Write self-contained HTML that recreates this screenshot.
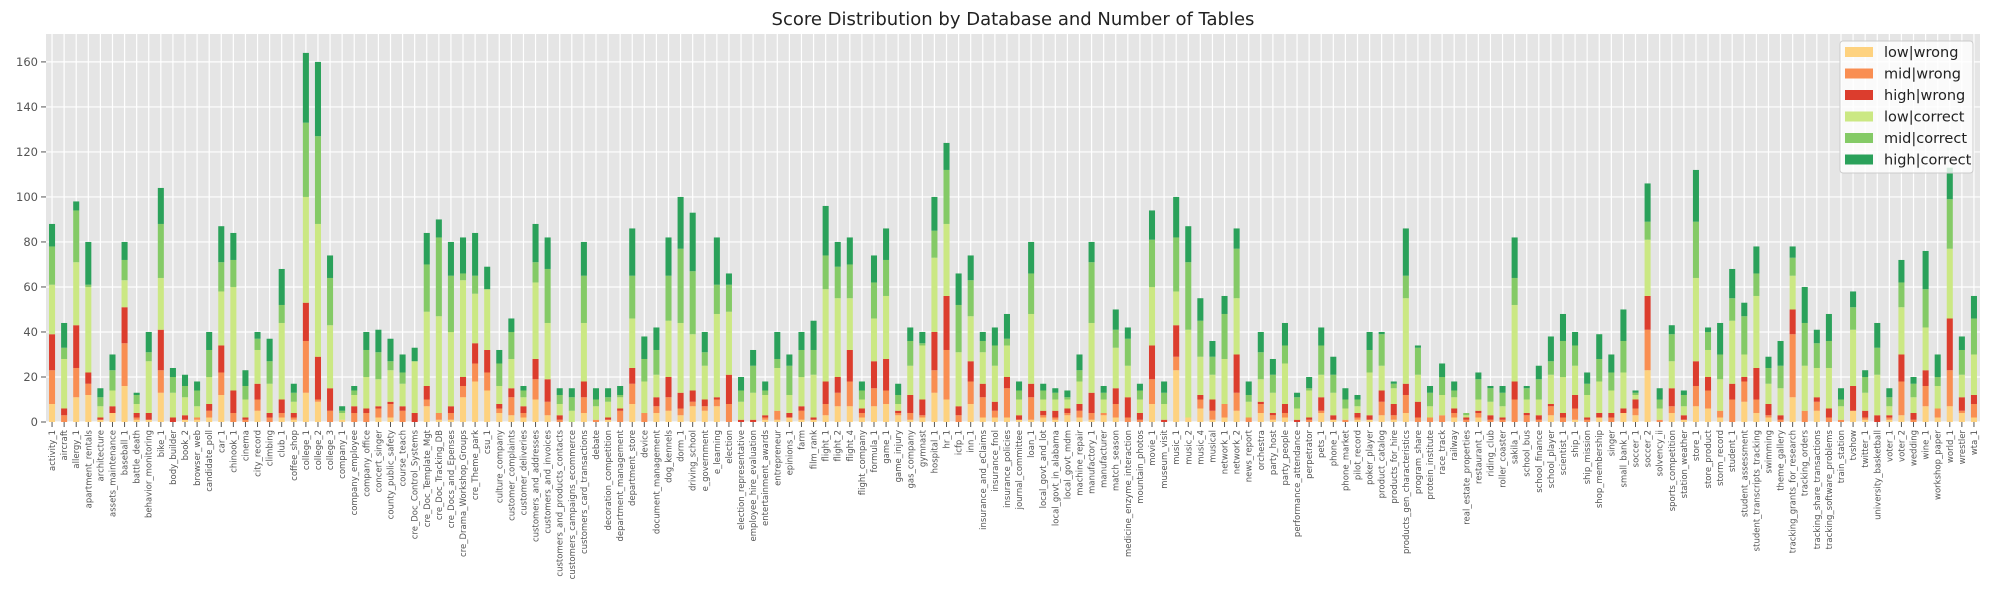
<!DOCTYPE html>
<html><head><meta charset="utf-8">
<style>
html,body{margin:0;padding:0;background:#fff;}
svg{display:block;font-family:"DejaVu Sans","Liberation Sans",sans-serif;}
</style></head>
<body>
<svg id="chart" width="1990" height="590" xmlns="http://www.w3.org/2000/svg">
<text x="1013" y="25" text-anchor="middle" font-size="18" fill="#222">Score Distribution by Database and Number of Tables</text>
<rect x="46" y="34" width="1934" height="388" fill="#e5e5e5"/>
<g id="grid"></g><g id="bars"></g><g id="axes"></g><g id="legend"></g>
</svg>
<script>
const categories = ["activity_1","aircraft","allergy_1","apartment_rentals","architecture","assets_maintenance","baseball_1","battle_death","behavior_monitoring","bike_1","body_builder","book_2","browser_web","candidate_poll","car_1","chinook_1","cinema","city_record","climbing","club_1","coffee_shop","college_1","college_2","college_3","company_1","company_employee","company_office","concert_singer","county_public_safety","course_teach","cre_Doc_Control_Systems","cre_Doc_Template_Mgt","cre_Doc_Tracking_DB","cre_Docs_and_Epenses","cre_Drama_Workshop_Groups","cre_Theme_park","csu_1","culture_company","customer_complaints","customer_deliveries","customers_and_addresses","customers_and_invoices","customers_and_products_contacts","customers_campaigns_ecommerce","customers_card_transactions","debate","decoration_competition","department_management","department_store","device","document_management","dog_kennels","dorm_1","driving_school","e_government","e_learning","election","election_representative","employee_hire_evaluation","entertainment_awards","entrepreneur","epinions_1","farm","film_rank","flight_1","flight_2","flight_4","flight_company","formula_1","game_1","game_injury","gas_company","gymnast","hospital_1","hr_1","icfp_1","inn_1","insurance_and_eClaims","insurance_fnol","insurance_policies","journal_committee","loan_1","local_govt_and_lot","local_govt_in_alabama","local_govt_mdm","machine_repair","manufactory_1","manufacturer","match_season","medicine_enzyme_interaction","mountain_photos","movie_1","museum_visit","music_1","music_2","music_4","musical","network_1","network_2","news_report","orchestra","party_host","party_people","performance_attendance","perpetrator","pets_1","phone_1","phone_market","pilot_record","poker_player","product_catalog","products_for_hire","products_gen_characteristics","program_share","protein_institute","race_track","railway","real_estate_properties","restaurant_1","riding_club","roller_coaster","sakila_1","school_bus","school_finance","school_player","scientist_1","ship_1","ship_mission","shop_membership","singer","small_bank_1","soccer_1","soccer_2","solvency_ii","sports_competition","station_weather","store_1","store_product","storm_record","student_1","student_assessment","student_transcripts_tracking","swimming","theme_gallery","tracking_grants_for_research","tracking_orders","tracking_share_transactions","tracking_software_problems","train_station","tvshow","twitter_1","university_basketball","voter_1","voter_2","wedding","wine_1","workshop_paper","world_1","wrestler","wta_1"];
const lowWrong = [8,0,11,12,1,4,16,1,1,13, 0,1,1,2,12,0,0,5,0,2, 1,13,9,0,1,0,0,2,2,0, 0,7,1,1,11,18,14,4,3,2, 10,3,0,0,4,0,1,0,8,0, 4,5,3,7,5,7,0,0,0,1, 1,2,1,1,3,7,7,2,7,8, 3,1,2,13,10,0,8,2,2,2, 1,1,2,1,3,2,1,3,2,0, 0,8,0,23,2,6,1,2,5,0, 4,1,2,0,0,4,1,0,1,1, 3,1,4,0,0,0,2,0,2,0, 0,0,0,0,3,0,1,0,2,0, 4,3,23,0,4,1,7,6,2,0, 9,4,2,0,11,0,5,0,0,5, 1,0,1,3,0,7,2,7,4,2];
const midWrong = [15,3,13,5,0,0,19,1,0,10, 0,0,1,3,10,4,1,5,2,2, 1,23,1,5,0,4,4,4,6,5, 0,3,3,3,5,8,8,2,8,2, 9,6,1,0,7,1,0,5,9,4, 3,6,3,2,2,3,8,0,0,1, 4,0,4,0,5,6,11,2,8,6, 1,3,1,10,22,3,10,9,3,13, 0,10,1,1,1,3,3,1,6,2, 1,11,0,6,0,4,4,6,8,2, 4,2,2,0,1,1,0,1,1,0, 6,2,8,2,2,3,2,1,2,1, 1,10,3,1,4,2,5,1,0,2, 0,3,18,1,3,0,9,8,3,10, 9,6,1,1,28,5,4,2,1,0, 1,0,1,15,1,9,4,16,1,6];
const highWrong = [16,3,19,5,1,3,16,2,3,18, 2,2,0,3,12,10,1,7,2,6, 2,17,19,10,0,3,2,1,1,2, 4,6,0,3,4,9,10,2,4,3, 9,10,2,0,7,0,1,1,7,0, 4,9,7,5,3,1,13,1,1,1, 0,2,2,1,10,7,14,2,12,14, 1,8,7,17,24,4,9,6,4,5, 2,6,2,3,2,3,9,0,7,9, 3,15,1,14,0,2,5,0,17,0, 1,1,4,1,1,6,2,0,2,2, 5,5,5,7,0,0,2,1,1,2, 1,8,1,2,1,2,6,1,2,2, 2,4,15,0,8,2,11,6,0,7, 2,14,5,2,11,0,2,4,0,11, 3,3,1,12,3,7,0,23,6,4];
const lowCorrect = [22,22,28,38,5,7,12,4,23,23, 11,8,5,12,24,46,8,15,13,34, 5,47,59,28,3,5,14,12,14,10, 23,33,43,33,43,22,27,8,13,4, 34,25,5,5,26,6,7,5,22,14, 10,25,31,25,15,37,28,8,12,9, 19,8,13,19,41,35,23,4,19,28, 3,13,24,33,32,24,20,14,16,14, 7,31,5,5,4,10,31,6,18,14, 6,26,7,15,39,17,11,20,25,7, 10,9,18,5,12,10,10,5,3,19, 11,7,38,12,5,9,5,1,5,6, 5,34,6,7,13,16,13,10,14,10, 16,2,25,5,12,4,37,12,14,28, 10,32,9,12,15,20,13,18,6,25, 8,18,4,21,7,19,10,31,10,18];
const midCorrect = [17,5,23,1,4,9,9,4,4,24, 7,5,7,12,13,12,6,5,10,8, 4,33,39,21,1,2,12,12,4,5, 0,21,35,25,3,8,0,10,12,3, 9,24,4,6,21,3,2,1,19,10, 11,20,33,28,6,13,12,5,12,2, 4,13,12,11,15,14,15,4,16,16, 4,11,1,12,24,21,16,5,9,3, 4,18,4,3,1,5,27,3,8,12, 4,21,5,24,30,16,8,20,22,3, 12,8,8,5,1,13,8,4,3,10, 14,2,10,12,6,8,3,1,9,6, 6,12,5,9,6,16,9,5,10,8, 14,1,8,4,12,5,25,8,11,10, 17,10,7,10,8,19,11,12,3,10, 7,12,4,11,6,17,4,22,11,16];
const highCorrect = [10,11,4,19,4,7,8,1,9,16, 4,5,4,8,16,12,7,3,10,16, 4,31,33,10,2,2,8,10,10,8, 6,14,8,15,16,19,10,6,6,2, 17,14,3,4,15,5,4,4,21,10, 10,17,23,26,9,21,5,6,7,4, 12,5,8,13,22,11,12,4,12,14, 5,6,5,15,12,14,11,4,8,11, 4,14,3,2,3,7,9,3,9,5, 3,13,5,18,16,10,7,8,9,6, 9,7,10,2,5,8,8,5,2,8, 1,1,21,1,3,6,4,0,3,1, 3,18,1,6,11,12,6,5,11,8, 14,1,17,5,4,2,23,2,14,13, 6,12,5,11,5,16,6,12,5,7, 3,11,4,10,3,17,10,14,6,10];
const seriesNames = ["low|wrong","mid|wrong","high|wrong","low|correct","mid|correct","high|correct"];
const yTicks = [0,20,40,60,80,100,120,140,160];

const NS = "http://www.w3.org/2000/svg";
const series = [lowWrong, midWrong, highWrong, lowCorrect, midCorrect, highCorrect];
const colors = ["#fed27f","#f98e52","#dc3d2d","#cbe883","#84ca66","#2aa15a"];
const PX0 = 46, PX1 = 1980, PY0 = 34, PY1 = 422, YMAX = 172.4;
const n = categories.length;
const step = (PX1 - PX0) / n;
function xScale(i){ return PX0 + (i + 0.5) * step; }
function yScale(v){ return PY1 - v / YMAX * (PY1 - PY0); }
function mk(tag, attrs, parent){ const e = document.createElementNS(NS, tag); for (const k in attrs) e.setAttribute(k, attrs[k]); parent.appendChild(e); return e; }
const grid = document.getElementById('grid'), bars = document.getElementById('bars'), axes = document.getElementById('axes'), legend = document.getElementById('legend');

yTicks.forEach(t => {
  const y = yScale(t);
  const gl = mk('line', {x1:PX0, x2:PX1, y1:y, y2:y, stroke:'#fff', 'stroke-width':1.2}, grid);
  
  
  const tk = mk('line', {x1:PX0-5, x2:PX0, y1:y, y2:y, stroke:'#555', 'stroke-width':1}, axes);
  
  
  const lb = mk('text', {x:PX0-8, y:y+4, 'text-anchor':'end', 'font-size':11.5, fill:'#555'}, axes);
  lb.textContent = t;
  
  
});
categories.forEach((c, i) => {
  const x = xScale(i);
  const gl = mk('line', {x1:x, x2:x, y1:PY0, y2:PY1, stroke:'#fff', 'stroke-width':1.2}, grid);
  
  
  const tk = mk('line', {x1:x, x2:x, y1:PY1, y2:PY1+5, stroke:'#555', 'stroke-width':1}, axes);
  
  
  const lb = mk('text', {transform:'translate(' + (x+3) + ',' + (PY1+8) + ') rotate(-90)', 'text-anchor':'end', 'font-size':8.5, fill:'#555'}, axes);
  lb.textContent = c;
  
  
  let acc = 0;
  series.forEach((s, k) => {
    const v = s[i];
    if (v > 0) {
      const r = mk('rect', {x:x - step*0.25, width:step*0.5, y:yScale(acc+v), height:yScale(acc)-yScale(acc+v), fill:colors[k]}, bars);
      
      
    }
    acc += v;
  });
});
const lbox = mk('rect', {x:1840, y:41, width:133, height:132, rx:3, fill:'#fff', 'fill-opacity':0.8, stroke:'#ccc', 'stroke-width':1}, legend);


seriesNames.forEach((nm, k) => {
  const y = 52 + k * 21.5;
  const p = mk('rect', {x:1845, y:y-5, width:28, height:10, fill:colors[k]}, legend);
  
  
  const t = mk('text', {x:1884, y:y+5, 'font-size':14.5, fill:'#222'}, legend);
  t.textContent = nm;
  
  
});
</script>
</body></html>
